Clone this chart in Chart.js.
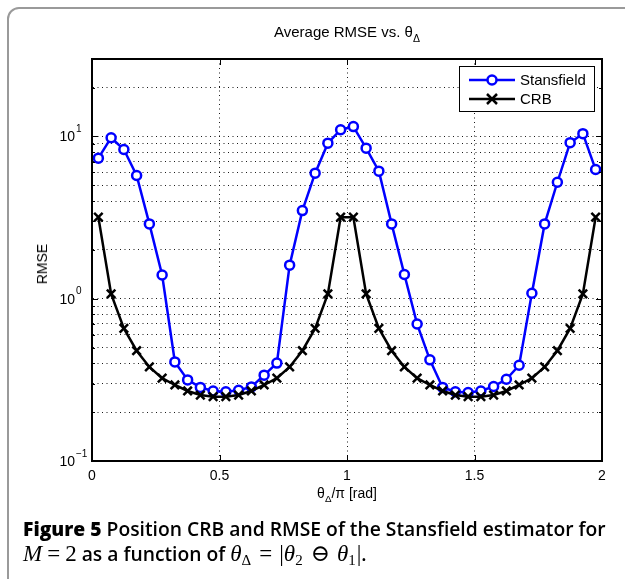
<!DOCTYPE html>
<html>
<head>
<meta charset="utf-8">
<script src="https://cdn.jsdelivr.net/npm/chart.js@4.4.1/dist/chart.umd.min.js"></script>
<style>
html, body { margin: 0; padding: 0; background: #fff; width: 625px; height: 579px; overflow: hidden; position: relative; }
#frame { position: absolute; left: 7px; top: 7px; width: 700px; height: 700px; border: 2px solid #9a9a9a; border-radius: 12px; }
#chart { position: absolute; left: 0; top: 0; }
.lbl { position: absolute; font-family: "Liberation Sans", Arial, sans-serif; color: #000; white-space: nowrap; }
.lbl sub { font-size: 70%; vertical-align: -0.45em; line-height: 0; }
#title { left: 0; width: 694px; top: 23px; text-align: center; font-size: 15px; }
#xlabel { left: 0; width: 694px; top: 485px; text-align: center; font-size: 14px; }
#ylabel { left: 42px; top: 264px; font-size: 14px; transform: translate(-50%, -50%) rotate(-90deg); }
#caption { position: absolute; left: 23px; top: 516px; font-family: "Open Sans", "Noto Sans", sans-serif; font-size: 19.3px; font-weight: 600; line-height: 25px; color: #000; white-space: nowrap; }
#caption b { font-weight: 800; }
#caption .m { font-family: "Liberation Serif", "DejaVu Serif", serif; font-weight: normal; font-size: 23px; line-height: 0; }
#caption .mi { font-family: "Liberation Serif", "DejaVu Serif", serif; font-weight: normal; font-style: italic; font-size: 23px; line-height: 0; }
#caption .op { margin: 0 7px; }
#caption .op1 { margin: 0 5px; }
#caption sub { font-size: 15px; vertical-align: -4px; line-height: 0; font-family: "Liberation Serif", serif; font-weight: normal; margin-right: 1px; }
</style>
</head>
<body>
<div id="frame"></div>
<canvas id="chart" width="625" height="510"></canvas>
<div class="lbl" id="title">Average RMSE vs. &theta;<sub>&Delta;</sub></div>
<div class="lbl" id="xlabel">&theta;<sub>&Delta;</sub>/&pi; [rad]</div>
<div class="lbl" id="ylabel">RMSE</div>
<div id="caption"><b>Figure 5</b> Position CRB and RMSE of the Stansfield estimator for<br><span class="mi">M</span><span class="m op1">=</span><span class="m">2</span> as a function of <span class="mi">&theta;</span><sub>&Delta;</sub><span class="m op">=</span><span class="m">|</span><span class="mi">&theta;</span><sub>2</sub><span class="m op">&#8854;</span><span class="mi">&theta;</span><sub>1</sub><span class="m">|</span>.</div>

<script>
// theta_delta / pi
var thetaOverPi = [0.025, 0.075, 0.125, 0.175, 0.225, 0.275, 0.325, 0.375, 0.425, 0.475,
                   0.525, 0.575, 0.625, 0.675, 0.725, 0.775, 0.825, 0.875, 0.925, 0.975,
                   1.025, 1.075, 1.125, 1.175, 1.225, 1.275, 1.325, 1.375, 1.425, 1.475,
                   1.525, 1.575, 1.625, 1.675, 1.725, 1.775, 1.825, 1.875, 1.925, 1.975];

// RMSE del estimador de Stansfield
var rmseStansfield = [7.35, 9.82, 8.31, 5.74, 2.89, 1.40, 0.408, 0.316, 0.284, 0.270,
                      0.267, 0.273, 0.286, 0.338, 0.401, 1.61, 3.49, 5.94, 9.09, 11.0,
                      11.5, 8.47, 6.11, 2.89, 1.41, 0.698, 0.420, 0.284, 0.267, 0.264,
                      0.270, 0.288, 0.319, 0.389, 1.08, 2.89, 5.22, 9.15, 10.4, 6.25];

// CRB
var crb = [3.18, 1.07, 0.656, 0.478, 0.380, 0.324, 0.294, 0.270, 0.255, 0.249,
           0.249, 0.255, 0.270, 0.294, 0.324, 0.380, 0.478, 0.656, 1.07, 3.18,
           3.18, 1.07, 0.656, 0.478, 0.380, 0.324, 0.294, 0.270, 0.255, 0.249,
           0.249, 0.255, 0.270, 0.294, 0.324, 0.380, 0.478, 0.656, 1.07, 3.18];

var xTicks = [0, 0.5, 1, 1.5, 2];
var xTickLabels = ["0", "0.5", "1", "1.5", "2"];
var yTicks = [0.1, 0.2, 0.3, 0.4, 0.5, 0.6, 0.7, 0.8, 0.9,
              1, 2, 3, 4, 5, 6, 7, 8, 9,
              10, 20, 30];
var yDecades = [0.1, 1, 10];
var yDecadeExps = ["\u22121", "0", "1"];
var seriesNames = ["Stansfield", "CRB"];

var FONT = '"Liberation Sans", Arial, sans-serif';

function puntos(ys) {
    return thetaOverPi.map(function (x, i) { return { x: x, y: ys[i] }; });
}

// Ejes al estilo MATLAB: caja, marcas hacia dentro, etiquetas y leyenda
var ejesMatlab = {
    id: "ejesMatlab",
    afterDraw: function (chart) {
        var ctx = chart.ctx;
        var a = chart.chartArea;
        var sx = chart.scales.x;
        var sy = chart.scales.y;
        ctx.save();

        // marcas
        ctx.strokeStyle = "#000";
        ctx.lineWidth = 1;
        yTicks.forEach(function (v) {
            var py = Math.round(sy.getPixelForValue(v)) + 0.5;
            var len = yDecades.indexOf(v) >= 0 ? 6 : 3;
            ctx.beginPath();
            ctx.moveTo(a.left, py); ctx.lineTo(a.left + len, py);
            ctx.moveTo(a.right, py); ctx.lineTo(a.right - len, py);
            ctx.stroke();
        });
        xTicks.forEach(function (v) {
            var px = Math.round(sx.getPixelForValue(v)) + 0.5;
            ctx.beginPath();
            ctx.moveTo(px, a.bottom); ctx.lineTo(px, a.bottom - 6);
            ctx.moveTo(px, a.top); ctx.lineTo(px, a.top + 6);
            ctx.stroke();
        });

        // caja
        ctx.lineWidth = 2;
        ctx.strokeRect(a.left, a.top, a.right - a.left, a.bottom - a.top);

        // etiquetas del eje x
        ctx.fillStyle = "#000";
        ctx.font = "14px " + FONT;
        ctx.textAlign = "center";
        ctx.textBaseline = "middle";
        xTicks.forEach(function (v, i) {
            ctx.fillText(xTickLabels[i], sx.getPixelForValue(v), a.bottom + 15);
        });

        // etiquetas del eje y (10^n)
        yDecades.forEach(function (v, i) {
            var py = sy.getPixelForValue(v);
            ctx.font = "14px " + FONT;
            ctx.textAlign = "right";
            ctx.fillText("10", a.left - 17, py + 1);
            ctx.font = "10px " + FONT;
            ctx.textAlign = "left";
            ctx.fillText(yDecadeExps[i], a.left - 16, py - 7);
        });

        // leyenda
        var lx = a.right - 143, ly = a.top + 7, lw = 135, lh = 45;
        ctx.fillStyle = "#fff";
        ctx.fillRect(lx, ly, lw, lh);
        ctx.lineWidth = 1;
        ctx.strokeStyle = "#000";
        ctx.strokeRect(lx + 0.5, ly + 0.5, lw, lh);
        var filas = [ly + 14, ly + 33];
        var estilos = chart.data.datasets;
        [0, 1].forEach(function (k) {
            var ds = estilos.filter(function (d) { return d.label === seriesNames[k]; })[0];
            var yy = filas[k];
            ctx.strokeStyle = ds.borderColor;
            ctx.lineWidth = 2.5;
            ctx.beginPath();
            ctx.moveTo(lx + 10, yy); ctx.lineTo(lx + 56, yy);
            ctx.stroke();
            var cx = lx + 33;
            if (k === 0) {
                ctx.fillStyle = "#fff";
                ctx.beginPath();
                ctx.arc(cx, yy, 4.5, 0, Math.PI * 2);
                ctx.fill();
                ctx.stroke();
            } else {
                ctx.beginPath();
                ctx.moveTo(cx - 5, yy - 5); ctx.lineTo(cx + 5, yy + 5);
                ctx.moveTo(cx + 5, yy - 5); ctx.lineTo(cx - 5, yy + 5);
                ctx.stroke();
            }
            ctx.fillStyle = "#000";
            ctx.font = "15px " + FONT;
            ctx.textAlign = "left";
            ctx.textBaseline = "middle";
            ctx.fillText(seriesNames[k], lx + 61, yy + 1);
        });

        ctx.restore();
    }
};

var gridDef = { color: "rgba(0,0,0,0.9)", lineWidth: 1, drawTicks: false };
var borderDef = { color: "#000", width: 2, dash: [1, 3.5] };

var ctx = document.getElementById("chart").getContext("2d");
var myChart = new Chart(ctx, {
    type: "line",
    data: {
        datasets: [{
            label: seriesNames[0],
            data: puntos(rmseStansfield),
            borderColor: "#0000ff",
            borderWidth: 2.5,
            pointStyle: "circle",
            pointRadius: 4.5,
            pointBorderWidth: 2.5,
            pointBackgroundColor: "#fff",
            pointBorderColor: "#0000ff",
            order: 1
        }, {
            label: seriesNames[1],
            data: puntos(crb),
            borderColor: "#000",
            borderWidth: 2.5,
            pointStyle: "crossRot",
            pointRadius: 6,
            pointBorderWidth: 2.5,
            pointBorderColor: "#000",
            order: 0
        }]
    },
    options: {
        responsive: false,
        animation: false,
        events: [],
        layout: { padding: { left: 92, top: 59, right: 23, bottom: 49 } },
        plugins: { legend: { display: false }, tooltip: { enabled: false }, title: { display: false } },
        scales: {
            x: {
                type: "linear", min: 0, max: 2,
                afterBuildTicks: function (s) { s.ticks = xTicks.map(function (v) { return { value: v }; }); },
                ticks: { display: false },
                grid: gridDef,
                border: borderDef
            },
            y: {
                type: "logarithmic", min: 0.1, max: 30,
                afterBuildTicks: function (s) { s.ticks = yTicks.map(function (v) { return { value: v }; }); },
                ticks: { display: false },
                grid: gridDef,
                border: borderDef
            }
        }
    },
    plugins: [ejesMatlab]
});
</script>
</body>
</html>
